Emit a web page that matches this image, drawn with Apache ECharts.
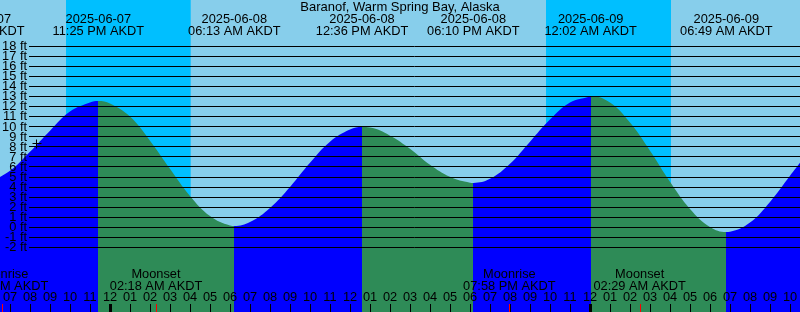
<!DOCTYPE html>
<html><head><meta charset="utf-8">
<script src="https://cdn.jsdelivr.net/npm/echarts@6/dist/echarts.min.js"></script>
<style>html,body{margin:0;padding:0;background:#87CEEB;overflow:hidden;width:800px;height:312px;position:relative}#c{position:absolute;left:-10px;top:0;width:820px;height:312px}</style>
</head><body><div id="c"></div>
<script>
// Hours relative to 2025-06-08 00:00 AKDT
const tideTimes = [-6, -5, -4, -3, -2, -1, -0.583, 0, 1, 2, 3, 4, 5, 6, 6.217, 7, 8, 9, 10, 11, 12, 12.6, 13, 14, 15, 16, 17, 18, 18.167, 19, 20, 21, 22, 23, 24, 24.033, 25, 26, 27, 28, 29, 30, 30.817, 31, 32, 33, 34, 35];
const tideFeet  = [4.5, 5.6, 7.5, 9.6, 11.5, 12.4, 12.55, 12.3, 11.0, 8.6, 5.8, 3.1, 1.1, 0.15, 0.1, 0.5, 1.9, 4.0, 6.4, 8.5, 9.7, 9.95, 9.9, 9.1, 7.8, 6.2, 5.0, 4.42, 4.4, 4.8, 6.3, 8.5, 10.7, 12.4, 13.0, 13.05, 12.4, 10.4, 7.6, 4.5, 1.8, 0.0, -0.5, -0.47, 0.45, 2.5, 5.1, 7.7];

const extremeTimes = [-6.583, -0.583, 6.217, 12.6, 18.167, 24.033, 30.817];
const extremeDates = ['2025-06-07', '2025-06-07', '2025-06-08', '2025-06-08', '2025-06-08', '2025-06-09', '2025-06-09'];
const extremeClock = ['05:25 PM AKDT', '11:25 PM AKDT', '06:13 AM AKDT', '12:36 PM AKDT', '06:10 PM AKDT', '12:02 AM AKDT', '06:49 AM AKDT'];

const moonTimes = [-5.4, 2.3, 19.967, 26.483];
const moonNames = ['Moonrise', 'Moonset', 'Moonrise', 'Moonset'];
const moonClock = ['06:36 PM AKDT', '02:18 AM AKDT', '07:58 PM AKDT', '02:29 AM AKDT'];

const nightStart = [-2.2, 21.8];
const nightEnd   = [4.035, 28.05];
const midnights  = [0, 24];

const nowTime = -3.71;
const nowFeet = 8.32;

const title = 'Baranof, Warm Spring Bay, Alaska';
const ftValues = [-2, -1, 0, 1, 2, 3, 4, 5, 6, 7, 8, 9, 10, 11, 12, 13, 14, 15, 16, 17, 18];
const ftLabels = ['-2 ft', '-1 ft', '0 ft', '1 ft', '2 ft', '3 ft', '4 ft', '5 ft', '6 ft', '7 ft', '8 ft', '9 ft', '10 ft', '11 ft', '12 ft', '13 ft', '14 ft', '15 ft', '16 ft', '17 ft', '18 ft'];

const RISE = '#0000FF', FALL = '#2E8B57', DAY = '#87CEEB', NIGHT = '#00BFFF';
const FF = '"Liberation Sans", Arial, sans-serif';
const FS = 12.8;
const yMin = -8.45, yMax = 22.6;

function hourLabel(v) {
  const h = ((Math.round(v) % 24) + 24) % 24;
  const h12 = h % 12 === 0 ? 12 : h % 12;
  return (h12 < 10 ? '0' : '') + h12;
}

const pieces = [{ lt: extremeTimes[0], color: FALL }];
for (let i = 0; i < extremeTimes.length - 1; i++) {
  pieces.push({ gte: extremeTimes[i], lt: extremeTimes[i + 1], color: i % 2 === 0 ? RISE : FALL });
}
pieces.push({ gte: extremeTimes[extremeTimes.length - 1], color: RISE });

const tideData = tideTimes.map((t, i) => [t, tideFeet[i]]);
const textStyle = (txt, align) => ({ text: txt, fill: '#000', font: FS + 'px ' + FF, align: align || 'center', verticalAlign: 'middle' });

const chart = echarts.init(document.getElementById('c'), null, { renderer: 'canvas' });
chart.setOption({
  animation: false,
  backgroundColor: DAY,
  title: { text: title, left: 'center', top: 1, padding: 0,
    textStyle: { fontFamily: FF, fontSize: 13, fontWeight: 'normal', color: '#000' } },
  grid: [
    { left: 0, right: 0, top: 0, bottom: 0, containLabel: false, outerBoundsMode: 'none' },
    { left: 39, right: 10, top: 46, height: 201.2, containLabel: false, outerBoundsMode: 'none' }
  ],
  xAxis: [
    { gridIndex: 0, type: 'value', min: -6, max: 35, interval: 1, position: 'bottom', z: 4,
      axisLine: { show: false, onZero: false }, splitLine: { show: false },
      axisTick: { show: true, inside: true, length: 8, lineStyle: { color: '#000', width: 1 } },
      axisLabel: { inside: true, margin: 15, verticalAlign: 'middle', formatter: hourLabel,
        fontFamily: FF, fontSize: FS, color: '#000', hideOverlap: false, lineHeight: 10 } },
    { gridIndex: 1, type: 'value', min: 0, max: 1, show: false }
  ],
  yAxis: [
    { gridIndex: 0, type: 'value', min: yMin, max: yMax, show: false },
    { gridIndex: 1, type: 'value', min: ftValues[0], max: ftValues[ftValues.length - 1], interval: 1, z: 3,
      axisLine: { show: false, onZero: false }, axisTick: { show: false }, axisLabel: { show: false },
      splitLine: { show: true, lineStyle: { color: '#000', width: 1 } } }
  ],
  visualMap: { show: false, type: 'piecewise', dimension: 0, seriesIndex: 1, pieces: pieces },
  series: [
    { type: 'line', xAxisIndex: 0, yAxisIndex: 0, z: 1, silent: true, data: [],
      markArea: { silent: true, itemStyle: { color: NIGHT },
        data: nightStart.map((s, i) => [{ xAxis: s }, { xAxis: nightEnd[i] }]) } },
    { type: 'line', xAxisIndex: 0, yAxisIndex: 0, z: 2, silent: true, data: tideData,
      smooth: 0.4, showSymbol: false, symbol: 'none',
      lineStyle: { width: 0 }, areaStyle: { opacity: 1, origin: 'start' } },
    { type: 'custom', xAxisIndex: 1, yAxisIndex: 1, z: 6, silent: true,
      data: ftValues.map(v => [0, v]),
      renderItem: (p, api) => {
        const c = api.coord([0, api.value(1)]);
        return { type: 'text', x: c[0] - 2, y: c[1] + 0.5, style: textStyle(ftLabels[p.dataIndex], 'right') };
      } },
    { type: 'custom', xAxisIndex: 0, yAxisIndex: 0, z: 6, silent: true,
      data: midnights.map(t => [t, yMin]),
      renderItem: (p, api) => {
        const c = api.coord([api.value(0), api.value(1)]);
        return { type: 'rect', shape: { x: Math.round(c[0]) - 1, y: c[1] - 8, width: 3, height: 8 }, style: { fill: '#000' } };
      } },
    { type: 'custom', xAxisIndex: 0, yAxisIndex: 0, z: 6, silent: true,
      data: moonTimes.map(t => [t, yMin]),
      renderItem: (p, api) => {
        const c = api.coord([api.value(0), api.value(1)]);
        return { type: 'rect', shape: { x: Math.round(c[0]), y: c[1] - 8, width: 1, height: 8 }, style: { fill: '#FF0000' } };
      } },
    { type: 'custom', xAxisIndex: 0, yAxisIndex: 0, z: 6, silent: true,
      data: extremeTimes.map(t => [t, 0]),
      renderItem: (p, api) => {
        const i = p.dataIndex;
        const x = api.coord([api.value(0), 0])[0];
        return { type: 'group', children: [
          { type: 'text', x: x, y: 19.5, style: textStyle(extremeDates[i]) },
          { type: 'text', x: x, y: 31.5, style: textStyle(extremeClock[i]) }
        ] };
      } },
    { type: 'custom', xAxisIndex: 0, yAxisIndex: 0, z: 6, silent: true,
      data: moonTimes.map(t => [t, 0]),
      renderItem: (p, api) => {
        const i = p.dataIndex;
        const x = api.coord([api.value(0), 0])[0];
        return { type: 'group', children: [
          { type: 'text', x: x, y: 274, style: textStyle(moonNames[i]) },
          { type: 'text', x: x, y: 286, style: textStyle(moonClock[i]) }
        ] };
      } },
    { type: 'custom', xAxisIndex: 0, yAxisIndex: 0, z: 6, silent: true,
      data: [[nowTime, nowFeet]],
      renderItem: (p, api) => {
        const c = api.coord([api.value(0), api.value(1)]);
        const cx = Math.round(c[0]) + 0.5, cy = Math.round(c[1]) + 0.5;
        return { type: 'group', children: [
          { type: 'line', shape: { x1: cx - 4, y1: cy, x2: cx + 5, y2: cy }, style: { stroke: '#000', lineWidth: 1 } },
          { type: 'line', shape: { x1: cx, y1: cy - 4, x2: cx, y2: cy + 5 }, style: { stroke: '#000', lineWidth: 1 } }
        ] };
      } }
  ]
});
</script>
</body></html>
